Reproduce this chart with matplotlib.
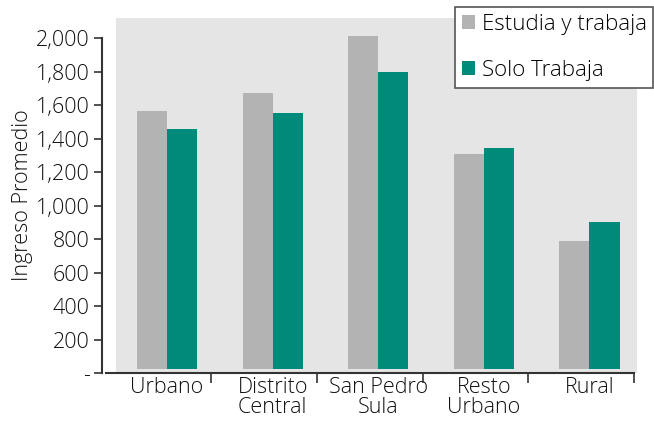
import matplotlib.pyplot as plt
import numpy as np
from matplotlib.patches import Patch
from matplotlib.ticker import FuncFormatter

plt.rcParams['font.family'] = ['Open Sans', 'DejaVu Sans']
plt.rcParams['font.weight'] = 'light'
plt.rcParams['axes.labelweight'] = 'light'

categories = ["Urbano", "Distrito\nCentral", "San Pedro\nSula", "Resto\nUrbano", "Rural"]
estudia_trabaja = [1565, 1670, 2010, 1305, 790]
solo_trabaja = [1458, 1552, 1795, 1342, 900]
series_names = ["Estudia y trabaja", "Solo Trabaja"]

GRAY = "#b3b3b3"
TEAL = "#008a7a"
BG = "#e5e5e5"
AXIS = "#333333"
TXT = "#111111"
FS = 15.5
BAR_BASE = 25  # bars float a hair above the axis in the original

fig = plt.figure(figsize=(6.54, 4.21), dpi=100)
ax = fig.add_axes([116 / 654, 1 - 373 / 421, (637 - 116) / 654, (373 - 18) / 421])
ax.set_facecolor(BG)

x = np.arange(len(categories))
w = 0.285
ax.bar(x - w / 2, np.array(estudia_trabaja) - BAR_BASE, w, bottom=BAR_BASE, color=GRAY)
ax.bar(x + w / 2, np.array(solo_trabaja) - BAR_BASE, w, bottom=BAR_BASE, color=TEAL)

for s in ["top", "right"]:
    ax.spines[s].set_visible(False)
ax.spines["left"].set_position(("outward", 10))
ax.spines["left"].set_bounds(0, 2000)
ax.spines["bottom"].set_bounds(-0.58, 4.42)
for s in ["left", "bottom"]:
    ax.spines[s].set_color(AXIS)
    ax.spines[s].set_linewidth(1.5)

ax.set_yticks(np.arange(0, 2001, 200))
ax.yaxis.set_major_formatter(FuncFormatter(lambda v, p: "-" if v == 0 else f"{int(v):,}"))
ax.tick_params(axis="y", direction="out", length=6, width=1.2, color=AXIS,
               labelsize=FS, pad=3, labelcolor=TXT)

ax.set_xticks(x)
ax.set_xticklabels(categories, linespacing=0.9)
ax.set_xticks(np.arange(len(categories) + 1) - 0.58, minor=True)
ax.tick_params(axis="x", which="major", length=0, labelsize=FS, pad=3, labelcolor=TXT)
ax.tick_params(axis="x", which="minor", direction="out", length=7, width=1.2, color=AXIS)

# limits after the ticks, so the minor ticks don't widen the view
ax.set_xlim(-0.483, 4.45)
ax.set_ylim(0, 2120)

ax.set_ylabel("Ingreso Promedio", fontsize=FS, color=TXT, labelpad=2)

handles = [Patch(facecolor=GRAY), Patch(facecolor=TEAL)]
leg = fig.legend(handles, series_names, loc="upper left",
                 bbox_to_anchor=(455 / 654, 1 - 7 / 421), fontsize=16,
                 handlelength=0.6, handleheight=0.6, handletextpad=0.3,
                 labelspacing=1.15, borderpad=0.3, borderaxespad=0,
                 fancybox=False, framealpha=1)
leg.get_frame().set_edgecolor("#555555")
leg.get_frame().set_linewidth(1.2)

fig.savefig("out.png", dpi=100)
